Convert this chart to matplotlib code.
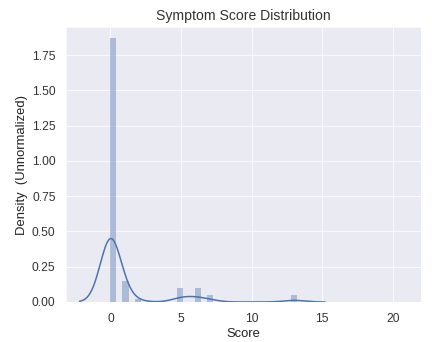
import numpy as np
import matplotlib
matplotlib.use("Agg")
import matplotlib.pyplot as plt
import seaborn as sns

# Data
scores = [0, 1, 2, 5, 6, 7, 13]          # observed score values
counts = [37, 3, 0.4, 2, 2, 1, 1]        # weights (counts) per score
bin_lo, bin_hi, n_bins = 0.0, 21.3, 50   # histogram binning
kde_bw = 0.73                            # kernel bandwidth (score units)
title = "Symptom Score Distribution"
xlabel = "Score"
ylabel = "Density  (Unnormalized)"
xticks = [0, 5, 10, 15, 20]
yticks = [0.0, 0.25, 0.5, 0.75, 1.0, 1.25, 1.5, 1.75]

sns.set_style("darkgrid")
plt.rcParams['font.family'] = ['Liberation Sans', 'DejaVu Sans']

fig = plt.figure(figsize=(6, 4.75), dpi=72)
ax = fig.add_axes([0.153, 0.117, 0.822, 0.804])

color = "#4c72b0"
edges = np.linspace(bin_lo, bin_hi, n_bins + 1)
ax.hist(scores, bins=edges, weights=counts, density=True,
        color=color, alpha=0.4, linewidth=0)

# Gaussian KDE from the same data
s = np.array(scores, float)
w = np.array(counts, float)
w = w / w.sum()
grid = np.linspace(s.min() - 3 * kde_bw, s.max() + 3 * kde_bw, 400)
dens = (w[None, :] * np.exp(-0.5 * ((grid[:, None] - s[None, :]) / kde_bw) ** 2)).sum(1) / (kde_bw * np.sqrt(2 * np.pi))
ax.plot(grid, dens, color=color, linewidth=1.5)

ax.set_xlim(-3.14, 22.0)
ax.set_ylim(0, 1.95)
ax.set_xticks(xticks)
ax.set_yticks(yticks)
ax.set_yticklabels([f"{v:.2f}" for v in yticks])
ax.tick_params(axis="both", labelsize=12, colors="#333333")
ax.tick_params(axis="y", pad=7)
ax.tick_params(axis="x", pad=8)
ax.set_title(title, fontsize=14, color="#333333", pad=7)
ax.set_xlabel(xlabel, fontsize=13, color="#222222", labelpad=3)
ax.set_ylabel(ylabel, fontsize=13, color="#222222", labelpad=4)

fig.savefig("out.png", dpi=72)
